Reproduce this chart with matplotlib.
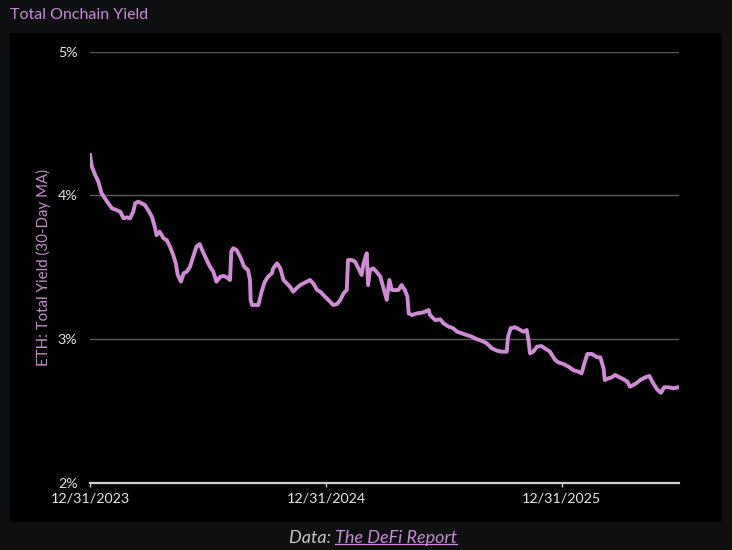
import numpy as np
import pandas as pd
import matplotlib
matplotlib.use("Agg")
import matplotlib.pyplot as plt
import matplotlib.dates as mdates
from matplotlib.lines import Line2D
from matplotlib.patches import Rectangle

plt.rcParams['font.family'] = ['Lato', 'DejaVu Sans']

# data: days since 12/31/2023 and yield in %
start_date = "2023-12-31"
end_date = "2026-07-01"
day_offsets = [
    0, 3, 8, 13, 18, 26, 34, 41, 47, 52, 57, 62, 67, 70, 75, 80, 85, 90, 96, 101,
    103, 108, 114, 119, 124, 129, 133, 136, 141, 145, 150, 155, 160, 165, 170, 176, 181, 186, 191, 196,
    202, 207, 212, 217, 219, 222, 227, 233, 239, 245, 248, 249, 251, 261, 266, 271, 276, 282, 284, 290,
    295, 300, 305, 310, 315, 320, 326, 331, 336, 341, 346, 352, 357, 362, 367, 372, 377, 383, 388, 393,
    398, 400, 406, 411, 416, 421, 424, 429, 431, 434, 439, 444, 450, 455, 460, 464, 468, 473, 478, 483,
    488, 492, 494, 499, 507, 514, 519, 525, 527, 535, 543, 548, 556, 563, 569, 576, 584, 592, 600, 607,
    615, 623, 631, 638, 646, 648, 652, 659, 667, 672, 677, 680, 682, 687, 693, 700, 705, 713, 721, 726,
    734, 742, 749, 757, 762, 767, 771, 778, 786, 791, 796, 798, 804, 809, 814, 819, 827, 833, 837, 842,
    848, 853, 861, 867, 873, 879, 885, 890, 897, 904, 912,
]
yield_pct = [
    4.281, 4.199, 4.142, 4.095, 4.014, 3.960, 3.910, 3.898, 3.886, 3.840, 3.847, 3.840, 3.886, 3.945, 3.956, 3.945, 3.933, 3.898, 3.851, 3.771,
    3.724, 3.747, 3.701, 3.689, 3.643, 3.585, 3.527, 3.446, 3.400, 3.457, 3.469, 3.503, 3.573, 3.643, 3.661, 3.597, 3.550, 3.503, 3.469, 3.399,
    3.434, 3.439, 3.430, 3.411, 3.608, 3.632, 3.620, 3.571, 3.503, 3.480, 3.411, 3.272, 3.237, 3.237, 3.329, 3.399, 3.434, 3.458, 3.492, 3.527,
    3.492, 3.411, 3.388, 3.364, 3.329, 3.353, 3.376, 3.388, 3.399, 3.411, 3.388, 3.341, 3.329, 3.306, 3.283, 3.260, 3.237, 3.244, 3.272, 3.318,
    3.341, 3.550, 3.550, 3.538, 3.492, 3.446, 3.527, 3.597, 3.376, 3.480, 3.492, 3.469, 3.434, 3.353, 3.272, 3.411, 3.341, 3.341, 3.341, 3.376,
    3.341, 3.295, 3.179, 3.167, 3.179, 3.183, 3.190, 3.202, 3.167, 3.132, 3.137, 3.109, 3.086, 3.075, 3.051, 3.040, 3.028, 3.016, 2.998, 2.988,
    2.970, 2.935, 2.919, 2.912, 2.912, 3.016, 3.075, 3.082, 3.063, 3.051, 3.063, 2.981, 2.901, 2.912, 2.947, 2.951, 2.935, 2.912, 2.854, 2.838,
    2.826, 2.807, 2.784, 2.773, 2.761, 2.842, 2.896, 2.896, 2.873, 2.873, 2.796, 2.715, 2.727, 2.734, 2.750, 2.738, 2.720, 2.703, 2.668, 2.680,
    2.696, 2.715, 2.734, 2.743, 2.692, 2.650, 2.626, 2.664, 2.664, 2.657, 2.664,
]
x_ticks = ["2023-12-31", "2024-12-31", "2025-12-31"]
y_ticks = [2, 3, 4, 5]

W, H = 732, 550
bg = '#0e0f11'
pink = '#d08ad6'

dates = pd.Timestamp(start_date) + pd.to_timedelta(day_offsets, unit='D')

fig = plt.figure(figsize=(W / 100, H / 100), dpi=100, facecolor=bg)
fig.add_artist(Rectangle((10 / W, 1 - 522 / H), 712 / W, 489 / H,
                         transform=fig.transFigure, facecolor='black',
                         edgecolor='none', zorder=0))

ax = fig.add_axes([90 / W, 1 - 482.7 / H, 589 / W, 431 / H])
ax.set_facecolor('black')
ax.plot(dates, yield_pct, color=pink, lw=2.8, solid_joinstyle='round', zorder=3)

ax.set_xlim(pd.Timestamp(start_date), pd.Timestamp(end_date))
ax.set_ylim(2, 5)
ax.set_yticks(y_ticks)
ax.set_yticklabels([f"{v}%" for v in y_ticks])
ax.set_xticks(pd.to_datetime(x_ticks))
ax.xaxis.set_major_formatter(mdates.DateFormatter('%m/%d/%Y'))

for v in y_ticks[1:]:
    ax.axhline(v, color='#5a5a5a', lw=1, zorder=1)

for s in ['top', 'right', 'left']:
    ax.spines[s].set_visible(False)
ax.spines['bottom'].set_color('#cfcfcf')
ax.spines['bottom'].set_linewidth(1.6)

ax.tick_params(axis='y', length=0, pad=9, labelsize=10.3, labelcolor='#e6e6e6')
ax.tick_params(axis='x', length=3, width=1, color='#cfcfcf', pad=4,
               labelsize=10.3, labelcolor='#e6e6e6')

fig.text(10 / W, 1 - 15 / H, "Total Onchain Yield", color='#c98ada',
         fontsize=11.5, ha='left', va='center')
fig.text(43 / W, 1 - 267 / H, "ETH: Total Yield (30-Day MA)", color='#c98bd0',
         fontsize=10.8, rotation=90, ha='center', va='center')

# footer with underlined link text
t1 = fig.text(289 / W, 1 - 538 / H, "Data: ", color='#c8c8c8', fontsize=13,
              style='italic', ha='left', va='center')
fig.canvas.draw()
r = fig.canvas.get_renderer()
bb1 = t1.get_window_extent(r)
t2 = fig.text(bb1.x1 / W, 1 - 538 / H, "The DeFi Report", color='#c98ada',
              fontsize=13, style='italic', ha='left', va='center')
fig.canvas.draw()
bb2 = t2.get_window_extent(r)
uy = (bb2.y0 + 2) / H
fig.add_artist(Line2D([bb2.x0 / W, bb2.x1 / W], [uy, uy], color='#c98ada',
                      lw=0.9, transform=fig.transFigure))

fig.savefig('out.png', dpi=100, facecolor=bg)
